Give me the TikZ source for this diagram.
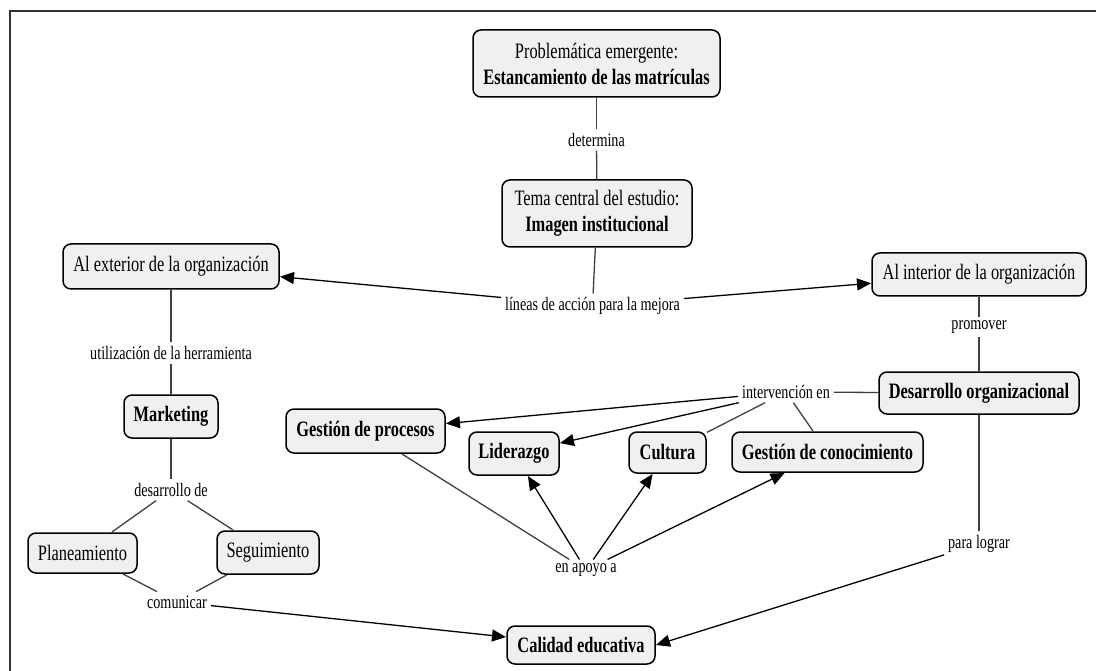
\documentclass[tikz,border=0pt]{standalone}
\usepackage{fontspec}
\setmainfont{Liberation Serif}[FakeStretch=0.745]
\usetikzlibrary{arrows.meta}
\definecolor{boxfill}{RGB}{240,240,240}
\begin{document}
\begin{tikzpicture}[x=1pt,y=-1pt,
  every node/.style={font=\fontsize{22}{26}\selectfont},
  box/.style={draw=black, line width=1.5pt, rounded corners=8pt, fill=boxfill, align=center, inner sep=0pt, outer sep=1pt},
  lbl/.style={inner sep=3pt, outer sep=1pt, font=\fontsize{19}{22}\selectfont},
  conn/.style={draw=black!75, line width=1.3pt},
  arr/.style={draw=black, line width=1.3pt, -{Triangle[length=14pt,width=12pt]}},
]
\useasboundingbox (0,0) rectangle (1096,671);
\draw[line width=2pt, black!80] (10,671) -- (10,11) -- (1096,11);

% concept boxes
\node[box, minimum width=247pt, minimum height=67pt] (prob) at (596.5,63.5) {Problemática emergente:\\\textbf{Estancamiento de las matrículas}};
\node[box, minimum width=190pt, minimum height=67pt] (tema) at (597,213.5) {Tema central del estudio:\\\textbf{Imagen institucional}};
\node[box, minimum width=216pt, minimum height=45pt] (ext) at (171,266.5) {Al exterior de la organización};
\node[box, minimum width=214pt, minimum height=43pt] (int) at (979,274.5) {Al interior de la organización};
\node[box, minimum width=94pt, minimum height=43pt] (mkt) at (171,416.5) {\textbf{Marketing}};
\node[box, minimum width=159pt, minimum height=44pt] (gp) at (365.5,431) {\textbf{Gestión de procesos}};
\node[box, minimum width=90pt, minimum height=43pt] (lid) at (514,453.5) {\textbf{Liderazgo}};
\node[box, minimum width=77pt, minimum height=41pt] (cul) at (667.5,452.5) {\textbf{Cultura}};
\node[box, minimum width=191pt, minimum height=40pt] (gc) at (827.5,452) {\textbf{Gestión de conocimiento}};
\node[box, minimum width=200pt, minimum height=42pt] (dev) at (979,393) {\textbf{Desarrollo organizacional}};
\node[box, minimum width=109pt, minimum height=40pt] (plan) at (82.5,553) {Planeamiento};
\node[box, minimum width=102pt, minimum height=43pt] (seg) at (268,552.5) {Seguimiento};
\node[box, minimum width=148pt, minimum height=38pt] (cal) at (581,645) {\textbf{Calidad educativa}};

% linking phrases
\node[lbl] (det) at (596.5,140) {determina};
\node[lbl] (lin) at (592.5,306) {líneas de acción para la mejora};
\node[lbl] (uti) at (171,353) {utilización de la herramienta};
\node[lbl] (pro) at (979,327) {promover};
\node[lbl] (itv) at (786,392) {intervención en};
\node[lbl] (des) at (171,490) {desarrollo de};
\node[lbl] (apo) at (586,570) {en apoyo a};
\node[lbl] (com) at (177,602) {comunicar};
\node[lbl] (plo) at (979,544) {para lograr};

% connectors
\draw[conn] (prob) -- (det);
\draw[conn] (det) -- (tema);
\draw[conn] (tema) -- (lin);
\draw[arr] (lin) -- (ext);
\draw[arr] (lin) -- (int);
\draw[conn] (ext) -- (uti);
\draw[conn] (uti) -- (mkt);
\draw[conn] (mkt) -- (des);
\draw[conn] (des) -- (plan);
\draw[conn] (des) -- (seg);
\draw[conn] (plan) -- (com);
\draw[conn] (seg) -- (com);
\draw[arr] (com) -- (cal);
\draw[conn] (int) -- (pro);
\draw[conn] (pro) -- (dev);
\draw[conn] (dev) -- (itv);
\draw[arr] (itv) -- (gp);
\draw[arr] (itv) -- (lid);
\draw[conn] (itv) -- (cul);
\draw[conn] (itv) -- (gc);
\draw[conn] (gp) -- (apo);
\draw[arr] (apo) -- (lid);
\draw[arr] (apo) -- (cul);
\draw[arr] (apo) -- (gc);
\draw[conn] (dev) -- (plo);
\draw[arr] (plo) -- (cal.east);
\end{tikzpicture}
\end{document}
